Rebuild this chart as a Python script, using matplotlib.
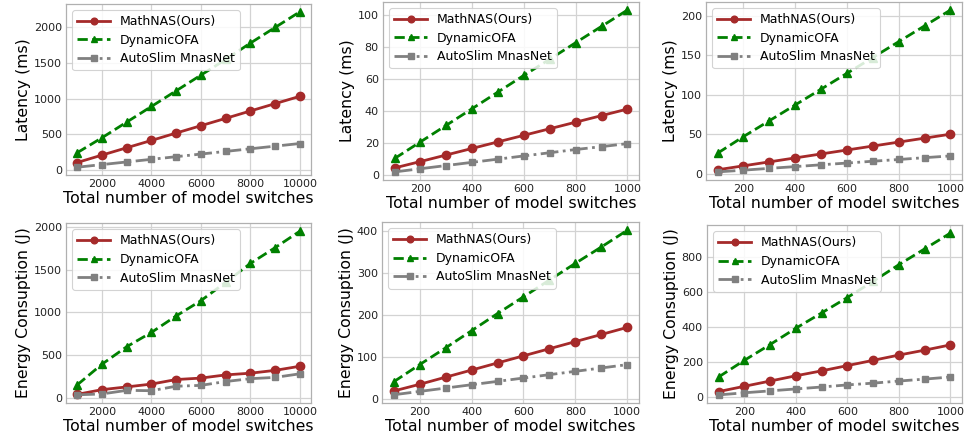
import matplotlib
matplotlib.use("Agg")
import matplotlib.pyplot as plt

series_names = ["MathNAS(Ours)", "DynamicOFA", "AutoSlim MnasNet"]

x_large = [1000, 2000, 3000, 4000, 5000, 6000, 7000, 8000, 9000, 10000]
x_small = [100, 200, 300, 400, 500, 600, 700, 800, 900, 1000]

# Top-left: latency, large switches
lat1_mathnas = [103, 207, 310, 413, 517, 620, 723, 827, 930, 1033]
lat1_dynofa = [240, 450, 670, 890, 1110, 1330, 1550, 1780, 2000, 2220]
lat1_autoslim = [37, 74, 111, 148, 185, 222, 259, 296, 333, 370]

# Top-middle: latency, small switches
lat2_mathnas = [4.5, 8.5, 12.6, 16.7, 20.8, 24.9, 29.0, 33.1, 37.2, 41.3]
lat2_dynofa = [10.4, 20.8, 31.2, 41.6, 52.0, 62.4, 72.5, 82.8, 93.0, 103.2]
lat2_autoslim = [2.0, 4.0, 6.0, 8.0, 10.0, 12.0, 14.0, 16.0, 17.8, 19.7]

# Top-right: latency, small switches
lat3_mathnas = [5, 10, 15, 20, 25, 30, 35, 40, 45, 50]
lat3_dynofa = [26, 47, 67, 87, 107, 127, 147, 167, 187, 207]
lat3_autoslim = [2.3, 4.5, 6.8, 9.0, 11.3, 13.5, 15.8, 18.0, 20.3, 22.5]

# Bottom-left: energy, large switches
en1_mathnas = [45, 100, 132, 165, 218, 235, 272, 292, 325, 373]
en1_dynofa = [155, 396, 600, 767, 959, 1137, 1350, 1571, 1755, 1947]
en1_autoslim = [40, 50, 92, 88, 140, 150, 195, 228, 243, 285]

# Bottom-middle: energy, small switches
en2_mathnas = [18, 34, 51, 68, 85, 102, 119, 136, 153, 170]
en2_dynofa = [40, 81, 121, 162, 203, 243, 283, 323, 362, 402]
en2_autoslim = [9, 17, 25, 33, 41, 49, 57, 65, 73, 81]

# Bottom-right: energy, small switches
en3_mathnas = [32, 62, 92, 122, 150, 180, 210, 240, 268, 298]
en3_dynofa = [115, 210, 300, 393, 480, 568, 660, 755, 845, 935]
en3_autoslim = [13, 25, 36, 47, 58, 70, 80, 92, 103, 115]

xlabel = "Total number of model switches"
ylabel_lat = "Latency (ms)"
ylabel_en = "Energy Consuption (J)"

panels = [
    (x_large, lat1_mathnas, lat1_dynofa, lat1_autoslim, ylabel_lat, [66, 4, 311, 175]),
    (x_small, lat2_mathnas, lat2_dynofa, lat2_autoslim, ylabel_lat, [383, 2, 639, 180]),
    (x_small, lat3_mathnas, lat3_dynofa, lat3_autoslim, ylabel_lat, [706, 2, 962, 180]),
    (x_large, en1_mathnas, en1_dynofa, en1_autoslim, ylabel_en, [66, 223, 311, 403]),
    (x_small, en2_mathnas, en2_dynofa, en2_autoslim, ylabel_en, [382, 222, 639, 403]),
    (x_small, en3_mathnas, en3_dynofa, en3_autoslim, ylabel_en, [707, 225, 962, 403]),
]

W, H = 969, 444
fig = plt.figure(figsize=(W / 100, H / 100), dpi=100)

for xs, m, d, a, ylab, (l, t, r, b) in panels:
    ax = fig.add_axes([l / W, (H - b) / H, (r - l) / W, (b - t) / H])
    ax.plot(xs, m, color="#a52a2a", linestyle="-", marker="o", linewidth=2,
            markersize=6, label=series_names[0])
    ax.plot(xs, d, color="green", linestyle="--", marker="^", linewidth=2,
            markersize=6, label=series_names[1])
    ax.plot(xs, a, color="grey", linestyle="-.", marker="s", linewidth=2,
            markersize=5, label=series_names[2])
    ax.grid(True, color="#d3d3d3", linewidth=0.9)
    ax.set_axisbelow(True)
    for s in ax.spines.values():
        s.set_color("#b0b0b0")
        s.set_linewidth(0.9)
    ax.tick_params(axis="both", length=0, labelsize=8, pad=3, colors="#222222")
    ax.set_xlabel(xlabel, fontsize=11.3, labelpad=1)
    ax.set_ylabel(ylab, fontsize=11.3, labelpad=2)
    leg = ax.legend(loc="upper left", fontsize=9, framealpha=0.85,
                    edgecolor="#cccccc", handlelength=2.6, borderpad=0.4,
                    labelspacing=0.45, markerscale=0.8)
    leg.get_frame().set_linewidth(0.8)

fig.savefig("out.png", dpi=100)
